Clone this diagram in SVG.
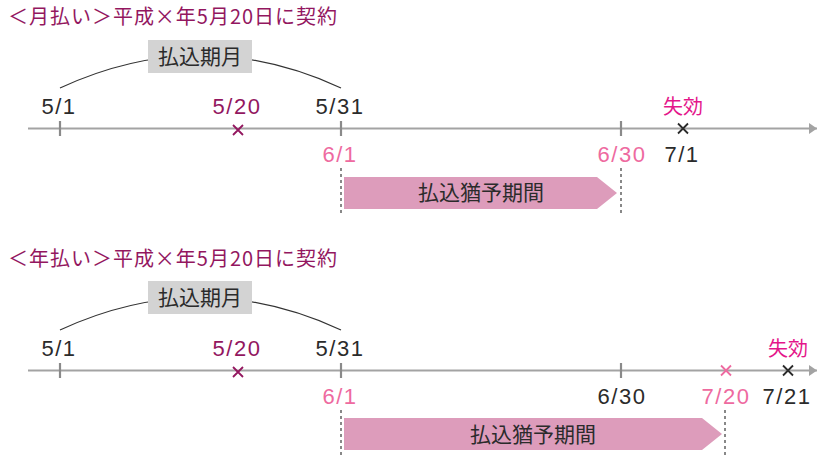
<svg xmlns="http://www.w3.org/2000/svg" width="819" height="458" viewBox="0 0 819 458">
<defs>
<style>
.title{font-family:"Noto Sans CJK JP","Noto Sans",sans-serif;font-size:20px;fill:#93175f}
.lbl{font-family:"Liberation Sans",Arial,sans-serif;font-size:22px;letter-spacing:1.5px;text-anchor:middle}
.jp{font-family:"Noto Sans CJK JP",sans-serif;text-anchor:middle}
.dark{fill:#2b2b2b}
.purple{fill:#93175f}
.pink{fill:#ee6aa0}
.mag{fill:#e4168a}
.axis{stroke:#a3a3a3;stroke-width:2.2;fill:none}
.tick{stroke:#8a8a8a;stroke-width:2.2}
.dash{stroke:#888;stroke-width:2;stroke-dasharray:3 3}
.arc{stroke:#333;stroke-width:1.2;fill:none}
.box{fill:#d3d3d3}
.band{fill:#dd9cbb}
.xm{stroke-width:1.8;fill:none}
</style>
<marker id="ah" viewBox="0 0 8 11" refX="8" refY="5.5" markerWidth="8" markerHeight="11" markerUnits="userSpaceOnUse" orient="auto">
<path d="M0,0 L8,5.5 L0,11 Z" fill="#a3a3a3"/>
</marker>
<g id="xmark"><path d="M-5,-5 L5,5 M5,-5 L-5,5"/></g>
</defs>
<rect width="819" height="458" fill="#fff"/>

<!-- Section 1: monthly -->
<g id="sec1">
<text id="title1" class="title" x="8" y="24" textLength="329" lengthAdjust="spacing">＜月払い＞平成×年5月20日に契約</text>
<g id="connectors1">
<path class="arc" d="M60,88 Q200.5,23 341,88"/>
<line class="axis" x1="28" y1="128.5" x2="817" y2="128.5" marker-end="url(#ah)"/>
<line class="tick" x1="60" y1="121" x2="60" y2="136"/>
<line class="tick" x1="341" y1="121" x2="341" y2="136"/>
<line class="tick" x1="621" y1="121" x2="621" y2="136"/>
<line class="dash" x1="341" y1="168" x2="341" y2="216"/>
<line class="dash" x1="621" y1="168" x2="621" y2="216"/>
</g>
<g id="period1">
<rect class="box" x="148" y="40" width="104" height="33"/>
<text class="jp dark" x="200" y="64" font-size="21">払込期月</text>
</g>
<g id="d501a"><text class="lbl dark" x="59" y="114">5/1</text></g>
<g id="d520a"><text class="lbl purple" x="237" y="114">5/20</text>
<use href="#xmark" x="238" y="130" class="xm" stroke="#93175f"/></g>
<g id="d531a"><text class="lbl dark" x="340" y="114">5/31</text></g>
<g id="d601a"><text class="lbl pink" x="340" y="162">6/1</text></g>
<g id="d630a"><text class="lbl pink" x="622" y="162">6/30</text></g>
<g id="d701a"><text class="lbl dark" x="682" y="162">7/1</text>
<use href="#xmark" x="683" y="128.5" class="xm" stroke="#2b2b2b"/>
<text class="jp mag" x="683" y="114" font-size="20">失効</text></g>
<g id="grace1">
<polygon class="band" points="344,177 597,177 617,193 597,209 344,209"/>
<text class="jp dark" x="481" y="200" font-size="21">払込猶予期間</text>
</g>
</g>

<!-- Section 2: yearly -->
<g id="sec2">
<text id="title2" class="title" x="8" y="266" textLength="329" lengthAdjust="spacing">＜年払い＞平成×年5月20日に契約</text>
<g id="connectors2">
<path class="arc" d="M60,330 Q200.5,265 341,330"/>
<line class="axis" x1="28" y1="370.5" x2="817" y2="370.5" marker-end="url(#ah)"/>
<line class="tick" x1="60" y1="363" x2="60" y2="378"/>
<line class="tick" x1="341" y1="363" x2="341" y2="378"/>
<line class="tick" x1="621" y1="363" x2="621" y2="378"/>
<line class="dash" x1="341" y1="410" x2="341" y2="458"/>
<line class="dash" x1="725" y1="410" x2="725" y2="458"/>
</g>
<g id="period2">
<rect class="box" x="148" y="281" width="104" height="33"/>
<text class="jp dark" x="200" y="305" font-size="21">払込期月</text>
</g>
<g id="d501b"><text class="lbl dark" x="59" y="356">5/1</text></g>
<g id="d520b"><text class="lbl purple" x="237" y="356">5/20</text>
<use href="#xmark" x="238" y="372" class="xm" stroke="#93175f"/></g>
<g id="d531b"><text class="lbl dark" x="340" y="356">5/31</text></g>
<g id="d601b"><text class="lbl pink" x="340" y="404">6/1</text></g>
<g id="d630b"><text class="lbl dark" x="622" y="404">6/30</text></g>
<g id="d720b"><text class="lbl pink" x="726" y="404">7/20</text>
<use href="#xmark" x="726" y="370.5" class="xm" stroke="#ee6aa0"/></g>
<g id="d721b"><text class="lbl dark" x="787" y="404">7/21</text>
<use href="#xmark" x="788" y="370.5" class="xm" stroke="#2b2b2b"/>
<text class="jp mag" x="788" y="356" font-size="20">失効</text></g>
<g id="grace2">
<polygon class="band" points="344,418 702,418 722,434 702,450 344,450"/>
<text class="jp dark" x="533" y="442" font-size="21">払込猶予期間</text>
</g>
</g>
</svg>
